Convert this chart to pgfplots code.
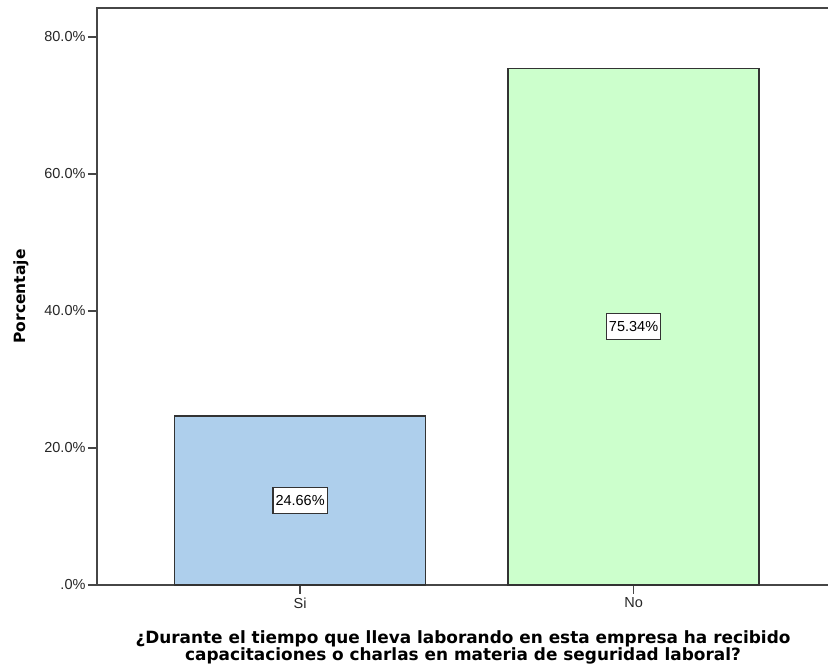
\documentclass[border=0pt]{standalone}
\usepackage{pgfplots}
\pgfplotsset{compat=1.18}
\usepackage{fontspec}
\setmainfont{Liberation Sans}
\newfontfamily\labfont{DejaVu Sans}
\definecolor{barblue}{RGB}{174,207,236}
\definecolor{bargreen}{RGB}{204,255,204}
\definecolor{axgray}{RGB}{70,70,70}
\begin{document}
\begin{tikzpicture}
\begin{axis}[
  name=ax,
  width=732pt, height=577pt, scale only axis,
  xmin=-0.609, xmax=1.586,
  ymin=0, ymax=84.2,
  axis line style={axgray, line width=1.6pt},
  xtick={0,1}, xticklabels={Si,No},
  ytick={0,20,40,60,80},
  yticklabels={.0\%,20.0\%,40.0\%,60.0\%,80.0\%},
  tick style={axgray, line width=1.6pt},
  tick align=outside, major tick length=9pt,
  xtick pos=bottom, ytick pos=left,
  ticklabel style={font=\fontsize{14.5}{16}\selectfont, text=black!85},
  yticklabel style={xshift=1pt},
  ylabel={\labfont\bfseries Porcentaje},
  ylabel style={font=\fontsize{15.5}{17}\selectfont, yshift=9pt},
  xlabel={\labfont\bfseries ¿Durante el tiempo que lleva laborando en esta empresa ha recibido\\\labfont\bfseries capacitaciones o charlas en materia de seguridad laboral?},
  xlabel style={font=\fontsize{16.9}{17}\selectfont, align=center, yshift=-16pt},
  clip=false,
]
\addplot[ybar, bar width=0.752, fill=barblue, draw=black!80, line width=1.4pt] coordinates {(0,24.66)};
\addplot[ybar, bar width=0.752, fill=bargreen, draw=black!80, line width=1.4pt] coordinates {(1,75.34)};
\addplot[only marks, mark=none, point meta=explicit symbolic,
  nodes near coords,
  every node near coord/.style={anchor=center, draw=black!80, line width=1.1pt, fill=white, inner xsep=2.5pt, minimum height=26pt, font=\fontsize{14.5}{16}\selectfont}]
  coordinates {(0,12.33) [24.66\%] (1,37.67) [75.34\%]};
\end{axis}
\pgfresetboundingbox
\path[use as bounding box] ([xshift=-97pt,yshift=-84pt]ax.south west) rectangle ([xshift=-1pt,yshift=8pt]ax.north east);
\end{tikzpicture}
\end{document}
